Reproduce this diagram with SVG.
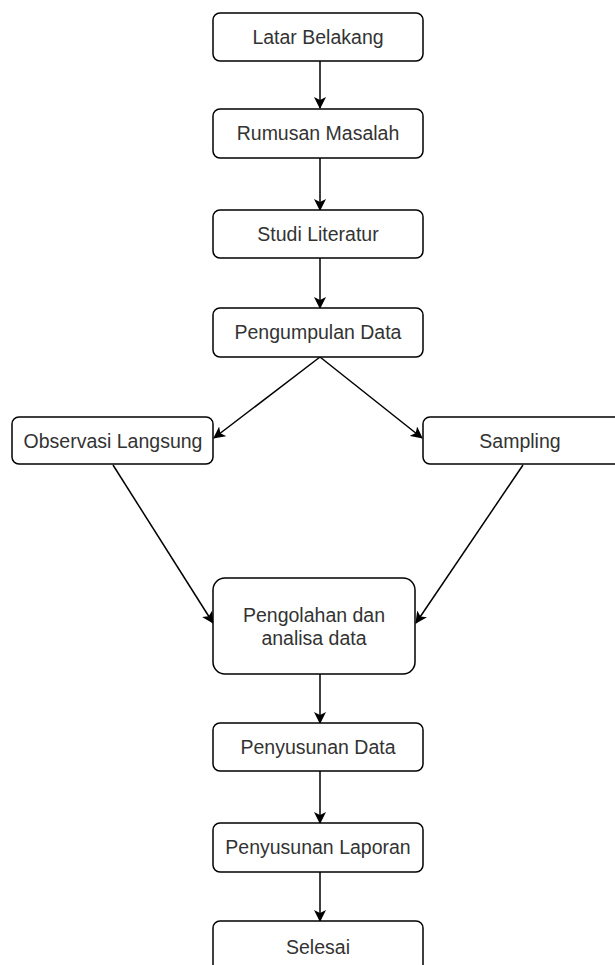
<svg xmlns="http://www.w3.org/2000/svg" width="615" height="965" viewBox="0 0 615 965">
<style>
.box{fill:#fff;stroke:#000;stroke-width:1.5}
.lbl{font-family:"Liberation Sans",Arial,sans-serif;font-size:19.5px;fill:#333;text-anchor:middle}
.edge{stroke:#000;stroke-width:1.5;fill:none;marker-end:url(#arr)}
</style>
<defs>
<marker id="arr" viewBox="0 0 12 12" refX="11" refY="6" markerWidth="12" markerHeight="12" markerUnits="userSpaceOnUse" orient="auto">
<path d="M0,0 L12,6 L0,12 L3,6 Z" fill="#000"/>
</marker>
</defs>
<rect width="615" height="965" fill="#fff"/>
<g id="connectors">
<line class="edge" x1="320" y1="61" x2="320" y2="108"/>
<line class="edge" x1="320" y1="158" x2="320" y2="210"/>
<line class="edge" x1="320" y1="258" x2="320" y2="308"/>
<line class="edge" x1="320" y1="357" x2="214" y2="438"/>
<line class="edge" x1="320" y1="357" x2="422" y2="438"/>
<line class="edge" x1="113" y1="465" x2="213" y2="623"/>
<line class="edge" x1="523" y1="465" x2="416" y2="623"/>
<line class="edge" x1="320" y1="674" x2="320" y2="723"/>
<line class="edge" x1="320" y1="771" x2="320" y2="823"/>
<line class="edge" x1="320" y1="872" x2="320" y2="921"/>
</g>
<g id="latar"><rect class="box" x="213" y="13" width="210" height="48" rx="7"/><text class="lbl" x="318" y="44">Latar Belakang</text></g>
<g id="rumusan"><rect class="box" x="213" y="109" width="210" height="49" rx="7"/><text class="lbl" x="318" y="140">Rumusan Masalah</text></g>
<g id="studi"><rect class="box" x="213" y="210" width="210" height="48" rx="7"/><text class="lbl" x="318" y="241">Studi Literatur</text></g>
<g id="pengumpulan"><rect class="box" x="213" y="308" width="210" height="49" rx="7"/><text class="lbl" x="318" y="339">Pengumpulan Data</text></g>
<g id="observasi"><rect class="box" x="12" y="417" width="201" height="47" rx="7"/><text class="lbl" x="113" y="448">Observasi Langsung</text></g>
<g id="sampling"><rect class="box" x="423" y="417" width="201" height="47" rx="7"/><text class="lbl" x="520" y="448">Sampling</text></g>
<g id="pengolahan"><rect class="box" x="213" y="578" width="202" height="96" rx="12"/><text class="lbl" x="314" y="622">Pengolahan dan</text><text class="lbl" x="314" y="645">analisa data</text></g>
<g id="penyusunan-data"><rect class="box" x="213" y="723" width="210" height="48" rx="7"/><text class="lbl" x="318" y="754">Penyusunan Data</text></g>
<g id="penyusunan-laporan"><rect class="box" x="213" y="823" width="210" height="49" rx="7"/><text class="lbl" x="318" y="854">Penyusunan Laporan</text></g>
<g id="selesai"><rect class="box" x="213" y="921" width="210" height="60" rx="7"/><text class="lbl" x="318" y="954">Selesai</text></g>
</svg>
